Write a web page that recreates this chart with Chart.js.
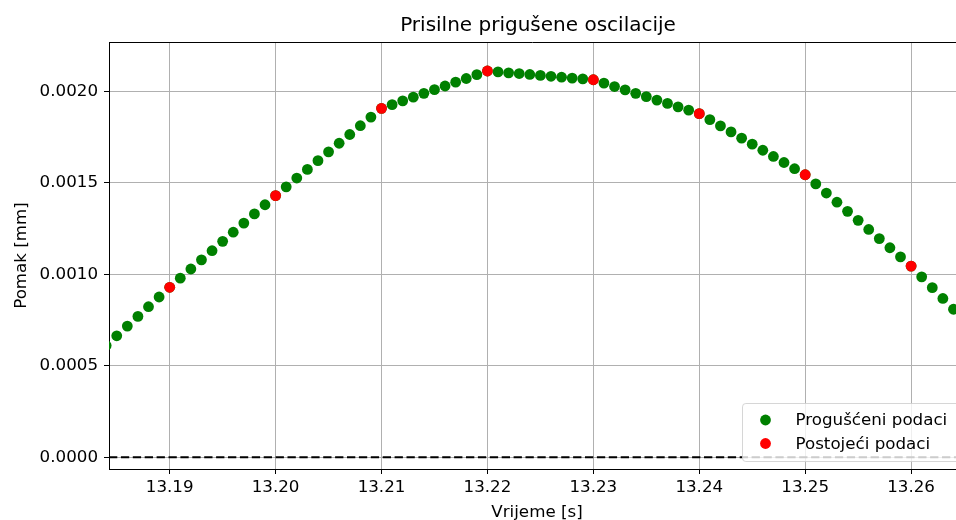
<!DOCTYPE html>
<html lang="hr">
<head>
<meta charset="utf-8">
<title>Prisilne prigušene oscilacije</title>
<script src="https://cdn.jsdelivr.net/npm/chart.js@4.4.1/dist/chart.umd.min.js"></script>
<style>
  html, body { margin: 0; padding: 0; background: #fff; }
  #wrap { width: 956px; height: 520px; }
</style>
</head>
<body>
<div id="wrap"><canvas id="chart-osc" width="956" height="520"></canvas></div>
<script>
/* =========================================================
   Prisilne prigušene oscilacije – pomak u vremenu
   ========================================================= */

/* ---- Progušćeni podaci (svaka 0.001 s) ---- */
const tGusto = [
  13.184, 13.185, 13.186, 13.187, 13.188, 13.189,
  13.190, 13.191, 13.192, 13.193, 13.194, 13.195, 13.196, 13.197, 13.198, 13.199,
  13.200, 13.201, 13.202, 13.203, 13.204, 13.205, 13.206, 13.207, 13.208, 13.209,
  13.210, 13.211, 13.212, 13.213, 13.214, 13.215, 13.216, 13.217, 13.218, 13.219,
  13.220, 13.221, 13.222, 13.223, 13.224, 13.225, 13.226, 13.227, 13.228, 13.229,
  13.230, 13.231, 13.232, 13.233, 13.234, 13.235, 13.236, 13.237, 13.238, 13.239,
  13.240, 13.241, 13.242, 13.243, 13.244, 13.245, 13.246, 13.247, 13.248, 13.249,
  13.250, 13.251, 13.252, 13.253, 13.254, 13.255, 13.256, 13.257, 13.258, 13.259,
  13.260, 13.261, 13.262, 13.263, 13.264,
];
const pomakGusto = [
  0.000611, 0.000664, 0.000717, 0.000770, 0.000823, 0.000876,
  0.000929, 0.000979, 0.001029, 0.001079, 0.001129, 0.001180, 0.001230, 0.001280, 0.001330, 0.001380,
  0.001430, 0.001478, 0.001526, 0.001573, 0.001621, 0.001669, 0.001716, 0.001764, 0.001812, 0.001859,
  0.001907, 0.001927, 0.001948, 0.001968, 0.001989, 0.002009, 0.002029, 0.002050, 0.002070, 0.002091,
  0.002111, 0.002106, 0.002101, 0.002097, 0.002092, 0.002087, 0.002082, 0.002077, 0.002072, 0.002068,
  0.002063, 0.002045, 0.002026, 0.002008, 0.001989, 0.001971, 0.001952, 0.001934, 0.001915, 0.001897,
  0.001878, 0.001845, 0.001811, 0.001778, 0.001744, 0.001711, 0.001678, 0.001644, 0.001611, 0.001577,
  0.001544, 0.001494, 0.001444, 0.001394, 0.001344, 0.001295, 0.001245, 0.001195, 0.001145, 0.001095,
  0.001045, 0.000986, 0.000927, 0.000868, 0.000809,
];

/* ---- Postojeći podaci ---- */
const tMjereno     = [13.19, 13.20, 13.21, 13.22, 13.23, 13.24, 13.25, 13.26];
const pomakMjereno = [0.000929, 0.001430, 0.001907, 0.002111, 0.002063, 0.001878, 0.001544, 0.001045];

/* ---- Osi ---- */
const xTicks  = [13.19, 13.20, 13.21, 13.22, 13.23, 13.24, 13.25, 13.26];
const yTicks  = [0.0000, 0.0005, 0.0010, 0.0015, 0.0020];
const xRaspon = [13.18427, 13.26424];
const yRaspon = [-0.0000639, 0.0022694];

/* ---- Nulta linija ---- */
const nulaX = [13.18427, 13.26424];
const nulaY = [0, 0];

const FONT = '"DejaVu Sans", "Liberation Sans", sans-serif';
const FS   = 16.7;

const toXY = (xs, ys) => xs.map((x, i) => ({ x, y: ys[i] }));

/* Naslov, oznake osi, gornji rub i legenda */
const ukrasi = {
  id: 'ukrasi',
  afterDraw(chart) {
    const { ctx, chartArea: a } = chart;
    ctx.save();

    /* gornji rub */
    ctx.strokeStyle = '#000';
    ctx.lineWidth = 1;
    ctx.beginPath();
    ctx.moveTo(a.left, a.top + 0.5);
    ctx.lineTo(a.right, a.top + 0.5);
    ctx.stroke();

    ctx.fillStyle = '#000';
    ctx.textAlign = 'center';
    ctx.textBaseline = 'alphabetic';

    ctx.font = `20px ${FONT}`;
    ctx.fillText('Prisilne prigušene oscilacije', 538, 31);

    ctx.font = `${FS}px ${FONT}`;
    ctx.fillText('Vrijeme [s]', 537, 517);

    ctx.save();
    ctx.translate(26, (a.top + a.bottom) / 2);
    ctx.rotate(-Math.PI / 2);
    ctx.fillText('Pomak [mm]', 0, 0);
    ctx.restore();

    /* legenda */
    const bx = 742, by = 403, bw = 230, bh = 58;
    ctx.globalAlpha = 0.8;
    ctx.fillStyle = '#fff';
    ctx.strokeStyle = '#cccccc';
    ctx.beginPath();
    ctx.roundRect(bx + 0.5, by + 0.5, bw, bh, 3.3);
    ctx.fill();
    ctx.stroke();
    ctx.globalAlpha = 1;

    const stavke = chart.data.datasets
      .filter(d => d.legenda !== undefined)
      .sort((p, q) => p.legenda - q.legenda);
    stavke.forEach((d, i) => {
      const cy = 420 + i * 23.5;
      ctx.fillStyle = d.backgroundColor;
      ctx.beginPath();
      ctx.arc(765.5, cy, 5.4, 0, Math.PI * 2);
      ctx.fill();
      ctx.fillStyle = '#000';
      ctx.textAlign = 'left';
      ctx.textBaseline = 'middle';
      ctx.fillText(d.label, 795.5, cy + 1);
    });

    ctx.restore();
  },
};

new Chart(document.getElementById('chart-osc'), {
  type: 'scatter',
  data: {
    datasets: [
      {
        label: 'Postojeći podaci',
        data: toXY(tMjereno, pomakMjereno),
        backgroundColor: '#ff0000',
        borderColor: '#ff0000',
        pointRadius: 5.4,
        pointBorderWidth: 0,
        order: 0,
        clip: 0,
        legenda: 1,
      },
      {
        label: 'Progušćeni podaci',
        data: toXY(tGusto, pomakGusto),
        backgroundColor: '#008000',
        borderColor: '#008000',
        pointRadius: 5.4,
        pointBorderWidth: 0,
        order: 1,
        clip: 0,
        legenda: 0,
      },
      {
        label: 'nula',
        data: toXY(nulaX, nulaY),
        showLine: true,
        borderColor: '#000',
        borderWidth: 2,
        borderDash: [8.3, 3.6],
        pointRadius: 0,
        order: 2,
        clip: 0,
      },
    ],
  },
  options: {
    responsive: false,
    devicePixelRatio: 1,
    animation: false,
    events: [],
    layout: { autoPadding: false, padding: { top: 42, right: 0, bottom: 0, left: 0 } },
    plugins: {
      legend: { display: false },
      title: { display: false },
      tooltip: { enabled: false },
    },
    scales: {
      x: {
        type: 'linear',
        min: xRaspon[0],
        max: xRaspon[1],
        afterBuildTicks: s => { s.ticks = xTicks.map(v => ({ value: v })); },
        afterFit: s => { s.height = 51; s.paddingLeft = 0; s.paddingRight = 0; },
        grid: { color: '#b0b0b0', lineWidth: 1, tickColor: '#000', tickLength: 5, drawTicks: true },
        border: { color: '#000', width: 1 },
        ticks: {
          autoSkip: false,
          maxRotation: 0,
          padding: 4,
          color: '#000',
          font: { family: FONT, size: FS },
          callback: v => v.toFixed(2),
        },
      },
      y: {
        type: 'linear',
        min: yRaspon[0],
        max: yRaspon[1],
        afterBuildTicks: s => { s.ticks = yTicks.map(v => ({ value: v })); },
        afterFit: s => { s.width = 109; s.paddingTop = 0; s.paddingBottom = 0; },
        grid: { color: '#b0b0b0', lineWidth: 1, tickColor: '#000', tickLength: 5, drawTicks: true },
        border: { color: '#000', width: 1 },
        ticks: {
          autoSkip: false,
          padding: 6,
          color: '#000',
          font: { family: FONT, size: FS },
          callback: v => v.toFixed(4),
        },
      },
    },
  },
  plugins: [ukrasi],
});
</script>
</body>
</html>
